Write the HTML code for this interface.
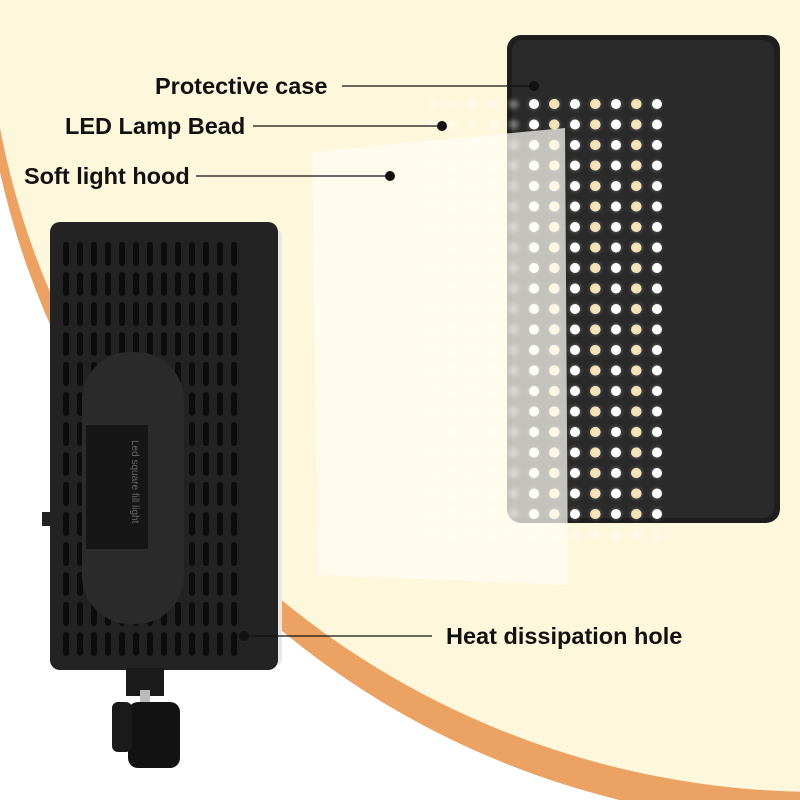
<!DOCTYPE html>
<html><head><meta charset="utf-8"><style>
html,body{margin:0;padding:0;background:#fff}
#c{position:relative;width:800px;height:800px;overflow:hidden;background:#fff}
.lbl{position:absolute;font-family:"Liberation Sans",sans-serif;font-weight:bold;font-size:23.5px;line-height:28px;color:#111;white-space:nowrap}
</style></head><body><div id="c">
<svg width="800" height="800" viewBox="0 0 800 800" style="position:absolute;left:0;top:0">
<defs>
<pattern id="leds" x="528" y="98" width="20.5" height="20.5" patternUnits="userSpaceOnUse">
<circle cx="6" cy="6" r="5" fill="#fff"/>
</pattern>
<pattern id="ledsY" x="548" y="98" width="41" height="20.5" patternUnits="userSpaceOnUse">
<circle cx="6" cy="6" r="5" fill="#efd9a0"/>
</pattern>
<pattern id="slots" x="60" y="240" width="14" height="30" patternUnits="userSpaceOnUse">
<rect x="3" y="2" width="6" height="24" rx="3" fill="#0c0c0c"/>
</pattern>
<filter id="bl"><feGaussianBlur stdDeviation="2"/></filter>
</defs>
<ellipse cx="820" cy="-8" rx="840" ry="832" fill="#eba262"/>
<ellipse cx="820" cy="-20" rx="834" ry="812" fill="#fdf7dc"/>
<rect x="507" y="35" width="273" height="488" rx="14" fill="#1e1e1e"/>
<rect x="512" y="40" width="262" height="478" rx="11" fill="#2a2a2a"/>
<rect x="520" y="92" width="145" height="428" fill="url(#leds)"/>
<rect x="540" y="92" width="125" height="428" fill="url(#ledsY)"/>
<rect x="430" y="100" width="230" height="450" fill="url(#leds)" opacity="0.35" filter="url(#bl)"/>
<polygon points="312,152 565,128 568,585 318,575" fill="#fffdf5" opacity="0.72"/>
<rect x="268" y="230" width="14" height="435" rx="5" fill="#e8e8e8"/>
<rect x="50" y="222" width="228" height="448" rx="10" fill="#232323"/>
<rect x="60" y="240" width="180" height="420" fill="url(#slots)"/>
<rect x="82" y="352" width="102" height="272" rx="48" fill="#2b2b2b"/>
<rect x="86" y="425" width="62" height="124" fill="#161616"/>
<text x="0" y="0" transform="translate(132,440) rotate(90)" font-family="Liberation Sans" font-size="10" fill="#666">Led square fill light</text>
<rect x="42" y="512" width="12" height="14" fill="#222"/>
<rect x="126" y="668" width="38" height="28" fill="#1a1a1a"/>
<rect x="140" y="690" width="10" height="18" fill="#bbb"/>
<rect x="128" y="702" width="52" height="66" rx="10" fill="#121212"/>
<rect x="112" y="702" width="20" height="50" rx="6" fill="#1a1a1a"/>
<g stroke="#111" stroke-width="1.3">
<line x1="342" y1="86" x2="533" y2="86"/>
<line x1="253" y1="126" x2="441" y2="126"/>
<line x1="196" y1="176" x2="390" y2="176"/>
<line x1="244" y1="636" x2="432" y2="636"/>
</g>
<g fill="#111"><circle cx="534" cy="86" r="5"/><circle cx="442" cy="126" r="5"/><circle cx="390" cy="176" r="5"/><circle cx="244" cy="636" r="5"/></g>
</svg>
<div class="lbl" style="left:155px;top:72px">Protective case</div>
<div class="lbl" style="left:65px;top:112px">LED Lamp Bead</div>
<div class="lbl" style="left:24px;top:162px">Soft light hood</div>
<div class="lbl" style="left:446px;top:622px">Heat dissipation hole</div>
</div></body></html>
